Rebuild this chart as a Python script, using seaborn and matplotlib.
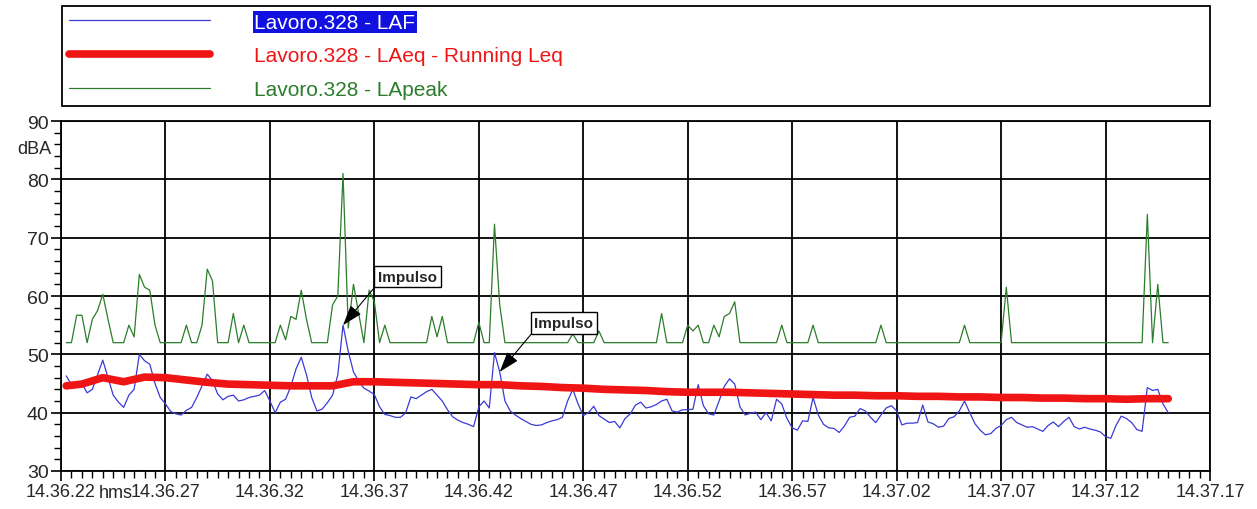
import matplotlib
matplotlib.use("Agg")
import matplotlib.pyplot as plt
from matplotlib.ticker import MultipleLocator
import seaborn as sns
import numpy as np

# time axis: seconds after 14.36.22
t_fast = np.arange(1, 213) * 0.25          # LAF / LApeak samples (0.25 s)
t_leq = np.r_[0.25, np.arange(1, 54)]      # running Leq, one value per second

# LAF, dBA (4 samples per second)
laf = [
    46.3, 44.8, 45.2, 45.0,  43.4, 44.0, 46.5, 49.0,  46.0, 43.0, 41.8, 40.9,
    43.0, 44.0, 50.0, 48.9,  48.3, 45.0, 42.6, 41.5,  40.2, 39.8, 39.6, 40.4,
    40.9, 42.6, 44.6, 46.6,  45.5, 43.2, 42.2, 42.8,  43.0, 42.0, 42.2, 42.6,
    42.8, 43.0, 43.8, 42.0,  40.0, 41.8, 42.3, 44.5,  47.5, 49.5, 46.5, 42.6,
    40.3, 40.6, 41.7, 43.0,  46.5, 55.0, 50.5, 47.0,  45.4, 44.2, 43.7, 43.1,
    41.0, 39.7, 39.5, 39.2,  39.2, 40.0, 42.7, 42.4,  43.0, 43.6, 44.0, 43.0,
    42.0, 40.5, 39.3, 38.7,  38.3, 38.0, 37.6, 41.0,  42.0, 40.8, 50.3, 47.0,
    42.0, 40.3, 39.6, 39.0,  38.5, 38.0, 37.8, 37.9,  38.3, 38.6, 38.8, 39.2,
    42.0, 44.0, 41.5, 39.5,  40.0, 41.1, 39.5, 38.9,  38.3, 38.5, 37.4, 39.0,
    39.8, 41.3, 41.8, 40.8,  41.0, 41.4, 42.0, 42.3,  40.3, 40.1, 40.5, 40.5,
    40.6, 44.8, 41.2, 39.8,  39.6, 42.0, 44.5, 45.8,  44.9, 41.0, 39.6, 39.9,
    40.1, 38.8, 40.0, 38.6,  42.3, 41.5, 39.0, 37.4,  37.0, 38.6, 38.5, 42.6,
    39.6, 38.0, 37.4, 37.3,  36.6, 37.7, 39.2, 39.4,  40.7, 40.3, 39.2, 38.3,
    39.6, 40.8, 41.2, 40.3,  37.9, 38.2, 38.2, 38.3,  41.3, 38.4, 38.1, 37.5,
    37.7, 39.0, 39.3, 40.3,  42.0, 40.0, 38.1, 37.0,  36.2, 36.4, 37.3, 37.8,
    38.8, 39.2, 38.3, 37.9,  37.5, 37.6, 37.2, 36.8,  37.8, 38.4, 37.6, 38.5,
    39.2, 37.6, 37.2, 37.5,  37.2, 37.0, 36.7, 35.9,  35.6, 37.8, 39.4, 39.0,
    38.3, 37.1, 36.8, 44.3,  43.8, 44.0, 41.5, 40.0,
]

# LApeak, dBA (4 samples per second)
lapeak = [
    52, 52, 56.7, 56.7,  52, 56, 57.5, 60.3,  56, 52, 52, 52,
    55, 53, 63.7, 61.5,  61, 55, 52, 52,  52, 52, 52, 55,
    52, 52, 55, 64.6,  62.6, 52, 52, 52,  57, 52, 55, 52,
    52, 52, 52, 52,  52, 55, 52.5, 56.5,  56, 61, 56, 52,
    52, 52, 52, 58.5,  60, 81, 54.5, 62,  57, 52, 61, 59,
    52, 55, 52, 52,  52, 52, 52, 52,  52, 52, 56.5, 53,
    56.5, 52, 52, 52,  52, 52, 52, 55.5,  52, 52, 72.3, 58.5,
    52, 52, 52, 52,  52, 52, 52, 52,  52, 52, 52, 52,
    52, 53.5, 52, 52,  52, 52, 54, 52,  52, 52, 52, 52,
    52, 52, 52, 52,  52, 52, 57, 52,  52, 52, 52, 55,
    54, 55, 52, 52,  55, 53, 56.5, 57,  59, 52, 52, 52,
    52, 52, 52, 52,  52, 55, 52, 52,  52, 52, 52, 55,
    52, 52, 52, 52,  52, 52, 52, 52,  52, 52, 52, 52,
    55, 52, 52, 52,  52, 52, 52, 52,  52, 52, 52, 52,
    52, 52, 52, 52,  55, 52, 52, 52,  52, 52, 52, 52,
    61.5, 52, 52, 52,  52, 52, 52, 52,  52, 52, 52, 52,
    52, 52, 52, 52,  52, 52, 52, 52,  52, 52, 52, 52,
    52, 52, 52, 74,  52, 62, 52, 52,
]

# LAeq running Leq, dBA
laeq = [
    44.6, 44.9, 46.0, 45.3, 46.1, 46.0, 45.6, 45.2, 44.9, 44.8,
    44.7, 44.6, 44.6, 44.6, 45.3, 45.3, 45.2, 45.1, 45.0, 44.9,
    44.8, 44.8, 44.6, 44.5, 44.3, 44.2, 44.0, 43.9, 43.8, 43.6,
    43.5, 43.5, 43.5, 43.4, 43.3, 43.2, 43.1, 43.0, 43.0, 42.9,
    42.9, 42.8, 42.8, 42.7, 42.7, 42.6, 42.6, 42.5, 42.5, 42.4,
    42.4, 42.3, 42.4, 42.4,
]

tick_labels = ["14.36.22", "14.36.27", "14.36.32", "14.36.37", "14.36.42", "14.36.47",
               "14.36.52", "14.36.57", "14.37.02", "14.37.07", "14.37.12", "14.37.17"]
series_names = ["Lavoro.328 - LAF", "Lavoro.328 - LAeq - Running Leq", "Lavoro.328 - LApeak"]
impulse_times = [13.5, 21.0]

BLUE = "#3a3ad6"
RED = "#f01515"
GREEN = "#2b7d2b"

sns.set_theme(style="white")
plt.rcParams['font.family'] = ['Liberation Sans', 'DejaVu Sans']

fig = plt.figure(figsize=(12.57, 5.10), dpi=100)
ax = fig.add_axes([61 / 1257, 38 / 510, 1149 / 1257, 350 / 510])

sns.lineplot(x=t_fast, y=laf, ax=ax, color=BLUE, lw=0.9, label=series_names[0], legend=False, zorder=3)
sns.lineplot(x=t_fast, y=lapeak, ax=ax, color=GREEN, lw=0.9, label=series_names[2], legend=False, zorder=3)
sns.lineplot(x=t_leq, y=laeq, ax=ax, color=RED, lw=5.5, label=series_names[1], legend=False,
             zorder=4, solid_capstyle='round')

ax.set_xlim(0, 55)
ax.set_ylim(30, 90)
ax.set_xticks(np.arange(0, 56, 5))
ax.set_xticklabels(tick_labels, fontsize=13)
ax.xaxis.set_minor_locator(MultipleLocator(0.5))
ax.yaxis.set_major_locator(MultipleLocator(10))
ax.yaxis.set_minor_locator(MultipleLocator(2))
ax.tick_params(axis='y', labelsize=14)
ax.tick_params(which='major', direction='out', length=7, width=1.2, color='black', pad=2,
               bottom=True, left=True)
ax.tick_params(which='minor', direction='out', length=5, width=1.0, color='black',
               bottom=True, left=True)
ax.grid(which='major', color='black', lw=1.3)
ax.set_axisbelow(True)
for sp in ax.spines.values():
    sp.set_color('black')
    sp.set_linewidth(1.3)
ax.set_xlabel('')
ax.set_ylabel('')

ax.text(-0.008, 85.2, "dBA", transform=ax.get_yaxis_transform(), ha='right', va='center', fontsize=13)
ax.annotate("hms", xy=(0.0325, 0), xycoords='axes fraction', xytext=(0, -9.5),
            textcoords='offset points', ha='left', va='top', fontsize=13)

# impulse markers
t_arr = np.asarray(t_fast)
for ti in impulse_times:
    yi = laf[int(np.argmin(np.abs(t_arr - ti)))]
    ax.annotate("Impulso", xy=(ti, yi), xytext=(25, 35), textcoords='offset points',
                ha='left', va='center', fontsize=11, fontweight='bold', zorder=6,
                bbox=dict(boxstyle='square,pad=0.25', fc='white', ec='black', lw=1),
                arrowprops=dict(arrowstyle='-|>,head_length=0.9,head_width=0.3', color='black',
                                lw=0.8, mutation_scale=14, shrinkA=0, shrinkB=0, relpos=(0, 0)))

# legend
handles, labels = ax.get_legend_handles_labels()
order = [labels.index(n) for n in series_names]
leg = fig.legend([handles[i] for i in order], series_names, loc='upper left',
                 bbox_to_anchor=(62 / 1257, 0.79, 1148 / 1257, 1 - 7 / 510 - 0.79),
                 mode='expand', borderaxespad=0, fontsize=15, handlelength=6.8,
                 handletextpad=2.1, labelspacing=0.7, borderpad=0.32,
                 fancybox=False, framealpha=1, edgecolor='black')
leg.get_frame().set_linewidth(1.3)
text_colors = ['white', RED, GREEN]
for txt, c in zip(leg.get_texts(), text_colors):
    txt.set_color(c)
leg.get_texts()[0].set_bbox(dict(facecolor='#1010e0', edgecolor='none', pad=1))

fig.savefig("out.png", dpi=100)
